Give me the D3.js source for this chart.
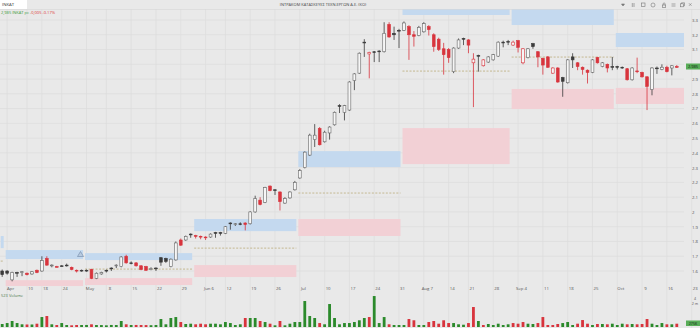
<!DOCTYPE html>
<html>
<head>
<meta charset="utf-8">
<script src="https://cdn.jsdelivr.net/npm/d3@7"></script>
<style>
  body { margin: 0; background: #e9e9e9; }
  svg { display: block; font-family: "Open Sans", sans-serif; }
</style>
</head>
<body>
<div id="chart"></div>
<script>
// chart data
const symbol = "INKAT";
const title = "ΙΝΤΡΑΚΟΜ ΚΑΤΑΣΚΕΥΕΣ ΤΕΧΝ.ΕΡΓΩΝ Α.Ε. (ΚΟ)";
const lastText = "2,985 INKAT pc";
const changeText = " -0,005 -0.17%";
const volumeTitle = "523 Volume";

const opens = [1.600,1.600,1.540,1.590,1.590,1.585,1.580,1.605,1.600,1.685,1.635,1.630,1.635,1.640,1.625,1.605,1.605,
  1.605,1.610,1.550,1.580,1.605,1.620,1.635,1.630,1.700,1.655,1.655,1.635,1.630,1.610,1.620,1.690,1.685,1.630,1.675,1.810,1.810,1.850,
  1.840,1.835,1.830,1.830,1.860,1.860,1.855,1.925,1.915,1.920,1.925,1.920,2.000,2.080,2.065,2.175,2.150,2.135,2.060,2.095,2.150,
  2.230,2.300,2.385,2.490,2.565,2.475,2.535,2.590,2.720,2.675,2.690,2.890,2.940,3.150,3.070,3.085,3.090,3.085,3.270,3.210,3.230,
  3.230,3.255,3.200,3.195,3.220,3.255,3.200,3.170,3.105,3.100,2.950,3.110,3.175,3.165,3.010,3.060,2.990,3.015,3.030,3.055,3.150,3.155,
  3.130,3.160,3.010,3.045,3.140,3.085,3.040,3.050,2.940,2.975,2.910,2.875,3.050,3.010,2.980,2.960,2.945,3.045,2.985,3.000,2.985,
  2.985,2.980,2.970,2.895,2.955,2.945,2.915,2.830,2.975,2.965,2.980,2.975,2.985];
const highs = [1.610,1.605,1.595,1.595,1.600,1.590,1.600,1.610,1.700,1.700,1.645,1.635,1.640,1.650,1.630,1.610,1.610,
  1.610,1.615,1.590,1.595,1.610,1.625,1.645,1.700,1.710,1.665,1.660,1.640,1.635,1.625,1.625,1.695,1.690,1.685,1.800,1.820,1.840,1.855,
  1.845,1.840,1.835,1.855,1.865,1.865,1.905,1.930,1.925,1.930,1.930,2.005,2.110,2.100,2.170,2.180,2.155,2.140,2.100,2.140,2.210,
  2.290,2.410,2.530,2.595,2.575,2.550,2.580,2.680,2.730,2.725,2.885,2.940,3.080,3.170,3.085,3.090,3.095,3.285,3.285,3.255,3.240,
  3.290,3.265,3.225,3.260,3.285,3.265,3.210,3.180,3.145,3.110,3.115,3.175,3.180,3.170,3.075,3.065,3.035,3.055,3.070,3.155,3.160,3.165,
  3.160,3.165,3.110,3.110,3.145,3.090,3.045,3.055,2.980,2.980,2.915,3.035,3.075,3.015,2.985,2.965,3.035,3.050,3.015,3.005,3.050,
  2.990,2.985,2.975,2.980,3.045,2.950,2.920,2.980,2.985,3.000,2.990,2.995,2.995];
const lows = [1.560,1.575,1.530,1.560,1.565,1.570,1.575,1.585,1.595,1.635,1.625,1.625,1.630,1.630,1.605,1.590,1.595,
  1.595,1.545,1.545,1.575,1.590,1.600,1.620,1.625,1.650,1.645,1.630,1.605,1.600,1.605,1.600,1.635,1.655,1.625,1.670,1.770,1.805,1.825,
  1.820,1.815,1.810,1.825,1.825,1.840,1.850,1.880,1.905,1.910,1.875,1.915,1.995,2.045,2.060,2.140,2.115,2.010,2.055,2.090,2.145,
  2.225,2.295,2.380,2.440,2.450,2.470,2.490,2.585,2.670,2.620,2.685,2.825,2.935,3.050,2.905,3.015,3.015,3.080,3.180,3.165,3.110,
  3.225,3.030,3.120,3.190,3.215,3.195,3.085,3.090,2.930,3.010,2.940,3.105,3.130,3.075,2.710,2.950,2.985,3.010,3.025,3.050,3.115,3.130,
  3.125,3.080,3.000,3.040,3.105,2.980,2.930,2.975,2.935,2.875,2.780,2.870,2.975,2.960,2.930,2.870,2.940,3.005,2.980,2.945,2.960,
  2.965,2.970,2.890,2.890,2.940,2.910,2.690,2.790,2.935,2.960,2.945,2.925,2.975];
const closes = [1.575,1.585,1.590,1.590,1.595,1.575,1.595,1.590,1.670,1.640,1.640,1.630,1.635,1.640,1.610,1.605,1.605,
  1.605,1.550,1.585,1.590,1.605,1.620,1.640,1.695,1.655,1.655,1.635,1.610,1.605,1.615,1.620,1.660,1.665,1.680,1.790,1.775,1.835,1.850,
  1.835,1.830,1.825,1.850,1.860,1.860,1.900,1.920,1.920,1.920,1.915,2.000,2.090,2.050,2.165,2.145,2.150,2.070,2.090,2.135,2.200,
  2.280,2.405,2.520,2.520,2.455,2.540,2.575,2.675,2.720,2.720,2.880,2.935,3.075,3.150,3.080,3.085,3.090,3.210,3.185,3.200,3.230,
  3.280,3.200,3.190,3.250,3.275,3.235,3.120,3.100,3.065,3.045,3.110,3.165,3.175,3.130,3.035,3.060,3.030,3.050,3.065,3.150,3.150,3.155,
  3.150,3.115,3.105,3.105,3.120,3.050,2.995,2.980,2.975,2.880,2.885,3.030,3.030,2.985,2.965,2.945,3.030,3.010,3.010,2.975,2.980,
  2.980,2.980,2.895,2.975,2.950,2.915,2.850,2.975,2.975,2.980,2.950,2.990,2.985];
const volumes = [250000,330000,500000,330000,225000,210000,210000,275000,830000,915000,225000,165000,330000,165000,140000,165000,165000,
  170000,225000,165000,160000,140000,170000,165000,500000,225000,165000,170000,165000,160000,150000,165000,665000,225000,750000,830000,415000,250000,275000,
  225000,275000,225000,275000,275000,225000,415000,330000,165000,225000,750000,750000,750000,500000,415000,275000,140000,500000,140000,275000,415000,
  415000,2165000,915000,750000,330000,225000,1915000,750000,225000,330000,330000,415000,560000,750000,830000,2580000,330000,830000,225000,165000,165000,
  165000,665000,560000,165000,165000,415000,500000,275000,560000,330000,330000,225000,190000,330000,1665000,500000,165000,250000,165000,275000,165000,225000,
  330000,275000,415000,275000,250000,330000,830000,165000,165000,250000,330000,415000,165000,275000,580000,275000,165000,250000,250000,225000,275000,
  165000,275000,225000,250000,225000,250000,665000,275000,165000,330000,225000,225000,275000];

// week ticks (candle index) and labels
const tickIdx = [1,5,8,12,17,21,26,31,36,41,45,50,55,60,65,70,75,80,85,90,94,99,104,109,114,119,124,129,134,139];
const tickLabels = ["Apr","10","18","24","May","8","15","22","29","Jun 6","12","19","26","Jul","10","17","24","31",
  "Aug 7","14","21","28","Sep 4","11","18","25","Oct","9","16","23"];
const priceTicks = [1.6,1.7,1.8,1.9,2,2.1,2.2,2.3,2.4,2.5,2.6,2.7,2.8,2.9,3,3.1,3.2,3.3];

// monthly zones: resistance (blue), pivot (dashed), support (red)
const zoneStart = [0, 1, 17, 39, 60, 81, 103, 124];
const zoneEnd = [0, 16, 38, 59, 80, 102, 123, 139];
const blueHi = [1.837, 1.742, 1.721, 1.952, 2.412, 3.40, 3.40, 3.212];
const blueLo = [1.755, 1.681, 1.674, 1.870, 2.304, 3.334, 3.266, 3.117];
const pivots = [1.667, null, 1.613, 1.755, 2.128, 2.954, 3.049, null];
const redHi = [null, 1.538, 1.552, 1.640, 1.952, 2.568, 2.833, 2.840];
const redLo = [null, 1.498, 1.505, 1.559, 1.837, 2.324, 2.697, 2.731];

const width = 700, height = 328;
const pane = { left: 0, right: 684, top: 9, bottom: 287 };
const red = "#d8343d", dark = "#3b3b3b", green = "#2b8a2b";

const candles = opens.map((o, i) => ({
  i, o, h: highs[i], l: lows[i], c: closes[i], v: volumes[i],
  down: i > 0 && closes[i] < closes[i - 1]
}));
const last = candles[candles.length - 1];

const svg = d3.select("#chart").append("svg")
  .attr("width", width)
  .attr("height", height);

svg.append("rect").attr("width", width).attr("height", height).attr("fill", "#e9e9e9");

const x = d3.scaleLinear().domain([0, 136]).range([2.2, 676.8]);
const y = d3.scaleLinear().domain([1.6, 3.3]).range([271, 20]);
const yVol = d3.scaleLinear().domain([0, 2000000]).range([327, 303]);
const step = x(1) - x(0);

svg.append("clipPath").attr("id", "clip")
  .append("rect")
  .attr("x", pane.left).attr("y", pane.top)
  .attr("width", pane.right - pane.left).attr("height", pane.bottom - pane.top);

// grid
const grid = svg.append("g").attr("stroke", "#dcdcdc").attr("stroke-width", 0.7);
grid.selectAll(".hg").data(priceTicks).enter().append("line")
  .attr("x1", pane.left).attr("x2", pane.right)
  .attr("y1", d => y(d)).attr("y2", d => y(d));
grid.selectAll(".vg").data(tickIdx).enter().append("line")
  .attr("x1", d => x(d)).attr("x2", d => x(d))
  .attr("y1", pane.top).attr("y2", height);

// zones
const zones = svg.append("g").attr("clip-path", "url(#clip)");
const zoneData = zoneStart.map((s, i) => ({
  x0: x(s) - step / 2 + 1, x1: x(zoneEnd[i]) + step / 2 - 1,
  bh: blueHi[i], bl: blueLo[i], p: pivots[i], rh: redHi[i], rl: redLo[i]
}));
zones.selectAll(".blue").data(zoneData).enter().append("rect")
  .attr("x", d => d.x0).attr("width", d => d.x1 - d.x0)
  .attr("y", d => y(d.bh)).attr("height", d => y(d.bl) - y(d.bh))
  .attr("fill", "#c4d9ef");
zones.selectAll(".red").data(zoneData.filter(d => d.rh != null)).enter().append("rect")
  .attr("x", d => d.x0).attr("width", d => d.x1 - d.x0)
  .attr("y", d => y(d.rh)).attr("height", d => y(d.rl) - y(d.rh))
  .attr("fill", "#f2d0d5");
zones.selectAll(".pivot").data(zoneData.filter(d => d.p != null)).enter().append("line")
  .attr("x1", d => d.x0).attr("x2", d => d.x1)
  .attr("y1", d => y(d.p)).attr("y2", d => y(d.p))
  .attr("stroke", "#b4a36c").attr("stroke-width", 0.7)
  .attr("stroke-dasharray", "2,1.5");

// alert marker
svg.append("path")
  .attr("d", "M77.5,256.5 L80.5,251.5 L83.5,256.5 Z")
  .attr("fill", "#b9cbe0").attr("stroke", "#6f86a6").attr("stroke-width", 0.6);

// candles
const cg = svg.append("g").attr("clip-path", "url(#clip)");
cg.selectAll(".wick").data(candles).enter().append("line")
  .attr("x1", d => x(d.i)).attr("x2", d => x(d.i))
  .attr("y1", d => y(d.h)).attr("y2", d => y(d.l))
  .attr("stroke", d => d.down ? red : dark)
  .attr("stroke-width", 0.8);
cg.selectAll(".body").data(candles).enter().append("rect")
  .attr("x", d => x(d.i) - 1.4)
  .attr("width", 2.8)
  .attr("y", d => y(Math.max(d.o, d.c)))
  .attr("height", d => Math.max(0.8, Math.abs(y(d.o) - y(d.c))))
  .attr("fill", d => d.c > d.o ? "#f6f6f6" : (d.down ? red : dark))
  .attr("stroke", d => d.down ? red : (d.c > d.o ? "#666" : dark))
  .attr("stroke-width", 0.6);

// price axis (the tick hidden under the price tag is left out, as in the original)
const shownTicks = priceTicks.filter(t => Math.abs(y(t) - y(last.c)) > 5);
const yAxis = svg.append("g")
  .attr("transform", `translate(690,0)`)
  .call(d3.axisRight(y).tickValues(shownTicks).tickSize(0).tickPadding(2)
    .tickFormat(d => String(+d.toFixed(1))));
yAxis.select(".domain").remove();
yAxis.selectAll("text").attr("font-size", 4.3).attr("fill", "#555").attr("font-family", "Open Sans");

// time axis
const xAxis = svg.append("g")
  .attr("transform", `translate(3,${pane.bottom - 2})`)
  .call(d3.axisBottom(x).tickValues(tickIdx).tickSize(0).tickPadding(2)
    .tickFormat((d, i) => tickLabels[i]));
xAxis.select(".domain").remove();
xAxis.selectAll("text").attr("font-size", 4.3).attr("fill", "#555").attr("font-family", "Open Sans");

// current price tag
svg.append("rect").attr("x", 686).attr("y", y(last.c) - 3).attr("width", 14).attr("height", 6)
  .attr("fill", "#58ad58");
svg.append("text").attr("x", 693).attr("y", y(last.c) + 1.5)
  .attr("text-anchor", "middle").attr("font-size", 4).attr("fill", "#102010")
  .text(last.c.toFixed(3));

// volume
svg.selectAll(".vol").data(candles).enter().append("rect")
  .attr("x", d => x(d.i) - 1.4)
  .attr("width", 2.8)
  .attr("y", d => yVol(d.v))
  .attr("height", d => yVol(0) - yVol(d.v))
  .attr("fill", d => d.down ? red : green);

svg.append("text").attr("x", 1).attr("y", 296.5).attr("font-size", 4).attr("fill", "#4d7a4d").text(volumeTitle);
svg.append("text").attr("x", 695).attr("y", 299.5).attr("text-anchor", "middle").attr("font-size", 3.6).attr("fill", "#555").text("4");
svg.append("text").attr("x", 695).attr("y", 304.5).attr("text-anchor", "middle").attr("font-size", 3.6).attr("fill", "#555").text("2 m");
svg.append("rect").attr("x", 686).attr("y", 320.5).attr("width", 14).attr("height", 5.5).attr("fill", "#58ad58");
svg.append("text").attr("x", 693).attr("y", 324.7).attr("text-anchor", "middle").attr("font-size", 3.6).attr("fill", "#102010")
  .text(d3.format(",")(Math.round(last.v / 1000)) + "K");

// header
svg.append("line").attr("x1", 0).attr("x2", width).attr("y1", 9.5).attr("y2", 9.5).attr("stroke", "#d6d6d6").attr("stroke-width", 0.6);
svg.append("rect").attr("x", 0).attr("y", 0).attr("width", 27).attr("height", 9).attr("fill", "#fff");
svg.append("text").attr("x", 2).attr("y", 6.3).attr("font-size", 4.3).attr("fill", "#333").text(symbol);
svg.append("text").attr("x", 323).attr("y", 6.3).attr("text-anchor", "middle").attr("font-size", 4)
  .attr("fill", "#444").text(title);
const info = svg.append("text").attr("x", 1).attr("y", 13.8).attr("font-size", 4);
info.append("tspan").attr("fill", "#3a9a3a").text(lastText);
info.append("tspan").attr("fill", "#d33").text(changeText);

// toolbar icons
const tb = svg.append("g").attr("stroke", "#777").attr("stroke-width", 0.6).attr("fill", "none");
tb.append("path").attr("d", "M621.5,4 L624.5,4 L623,6 Z").attr("fill", "#777");
tb.append("path").attr("d", "M632.3,3 V7 M634,3 V7");
tb.append("rect").attr("x", 641.5).attr("y", 3).attr("width", 3.5).attr("height", 3.5);
tb.append("circle").attr("cx", 653).attr("cy", 5).attr("r", 2);
tb.append("rect").attr("x", 662.5).attr("y", 5).attr("width", 3.2).attr("height", 2.5);
tb.append("path").attr("d", "M663.2,5 V3.8 A0.9,0.9 0 0 1 665,3.8 V5");
tb.append("path").attr("d", "M671.5,4 H675.5 M671.5,6 H675.5");
tb.append("rect").attr("x", 680.5).attr("y", 3.8).attr("width", 3).attr("height", 3);
tb.append("path").attr("d", "M681.5,3.8 V2.8 H684.5 V5.8 H683.5");
tb.append("path").attr("d", "M689,3.3 L691.5,5.8 M691.5,3.3 L689,5.8");
</script>
</body>
</html>
